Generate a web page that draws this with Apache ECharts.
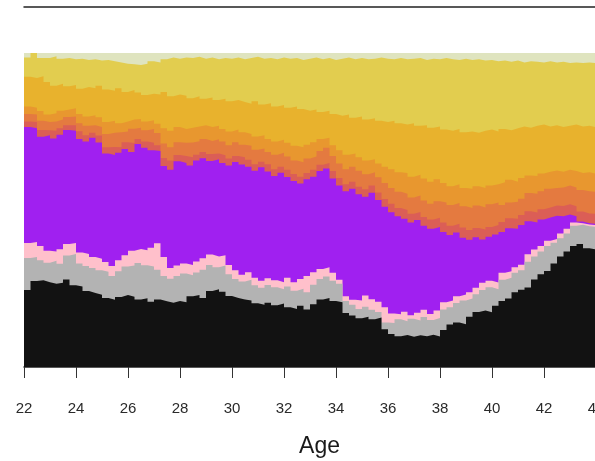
<!DOCTYPE html>
<html>
<head>
<meta charset="utf-8">
<script src="https://cdn.jsdelivr.net/npm/echarts@6/dist/echarts.min.js"></script>
<style>
  html, body { margin: 0; padding: 0; background: #ffffff; }
  #chart { width: 595px; height: 461px; }
</style>
</head>
<body>
<div id="chart"></div>
<script>
// Sampled ages (years)
const ages = [
  22.00,22.25,22.50,22.75,23.00,23.25,23.50,23.75,24.00,24.25,
  24.50,24.75,25.00,25.25,25.50,25.75,26.00,26.25,26.50,26.75,
  27.00,27.25,27.50,27.75,28.00,28.25,28.50,28.75,29.00,29.25,
  29.50,29.75,30.00,30.25,30.50,30.75,31.00,31.25,31.50,31.75,
  32.00,32.25,32.50,32.75,33.00,33.25,33.50,33.75,34.00,34.25,
  34.50,34.75,35.00,35.25,35.50,35.75,36.00,36.25,36.50,36.75,
  37.00,37.25,37.50,37.75,38.00,38.25,38.50,38.75,39.00,39.25,
  39.50,39.75,40.00,40.25,40.50,40.75,41.00,41.25,41.50,41.75,
  42.00,42.25,42.50,42.75,43.00,43.25,43.50,43.75,44.00
];

// Cumulative share (%) at the top of each state, bottom state first
const cumBlack = [
  24.5,27.4,27.6,27.0,26.5,26.8,27.9,26.0,25.6,24.2,
  23.6,23.0,22.0,21.4,22.3,22.9,22.4,21.5,21.9,20.8,
  21.5,20.9,20.5,21.0,20.6,22.5,22.9,22.0,24.2,24.8,
  24.0,22.6,22.0,21.5,21.2,20.3,19.8,20.5,19.7,20.2,
  19.0,18.5,19.5,18.3,20.0,21.5,22.0,21.0,20.6,17.2,
  16.4,15.5,16.0,15.2,15.8,12.0,10.5,9.8,10.2,9.6,
  10.1,9.8,10.3,9.7,11.8,13.5,14.2,13.6,16.0,17.5,
  18.0,17.4,19.5,21.0,21.8,23.8,24.6,25.3,27.9,29.5,
  30.6,33.0,35.2,36.8,38.5,39.2,37.8,37.4,37.6
];
const cumGray = [
  34.7,35.0,34.0,33.2,33.8,32.9,35.5,36.0,33.0,32.2,
  31.5,30.8,30.3,29.0,30.5,32.0,32.3,33.1,32.4,32.0,
  31.0,29.0,28.1,29.0,29.8,29.2,30.1,31.0,32.5,31.8,
  32.3,29.5,28.0,27.2,27.8,26.0,25.2,26.1,25.4,24.8,
  25.6,24.3,24.9,23.8,26.2,28.0,28.8,27.5,26.5,21.0,
  19.8,18.5,19.2,18.2,17.5,14.2,14.0,15.2,14.6,15.4,
  14.8,15.9,15.0,15.6,18.3,19.0,20.4,21.2,21.8,23.2,
  24.5,25.4,24.8,27.8,28.4,30.0,30.8,33.5,35.2,36.8,
  38.5,39.6,41.0,42.5,45.0,45.3,44.8,44.6,44.6
];
const cumPink = [
  39.5,39.8,38.5,37.0,36.8,37.5,39.2,39.5,36.5,36.0,
  35.0,34.5,33.4,32.2,34.0,35.6,37.0,37.6,37.2,38.0,
  39.4,35.0,31.5,32.3,33.0,32.5,33.6,34.6,35.8,35.2,
  35.6,32.5,30.8,29.4,30.2,28.4,27.5,28.3,27.6,27.0,
  28.4,27.0,28.0,29.0,30.2,31.2,31.8,30.0,27.8,22.5,
  21.4,21.2,22.8,21.6,20.8,19.0,17.0,16.8,17.6,16.5,
  17.3,18.2,16.9,18.0,20.6,21.2,22.5,23.1,23.8,25.2,
  26.8,27.5,26.9,30.0,30.5,31.8,32.6,35.9,37.4,38.5,
  40.2,40.8,42.5,44.0,46.0,45.8,45.4,45.2,45.0
];
const cumPurple = [
  76.4,76.0,73.3,73.8,72.8,74.0,75.5,75.2,72.6,71.8,
  73.0,71.5,68.0,67.5,68.2,69.4,68.5,71.0,69.8,69.0,
  68.8,64.0,62.8,65.5,65.0,64.2,65.8,66.5,65.6,66.2,
  65.0,64.2,65.3,64.5,63.8,62.5,63.6,62.3,60.8,61.9,
  60.5,59.2,58.4,59.8,60.6,62.4,63.2,60.0,57.8,56.0,
  56.8,55.0,54.2,55.5,53.2,51.0,49.3,48.0,47.2,46.0,
  46.8,45.0,44.0,44.6,43.0,42.0,42.8,41.2,40.5,41.3,
  40.6,41.5,42.2,43.0,44.2,44.0,45.2,46.4,46.0,47.0,
  47.6,48.2,48.0,48.6,48.0,46.3,45.8,45.6,45.4
];
const cumRed = [
  78.2,78.0,75.5,75.4,75.2,76.0,77.0,77.0,75.1,73.8,
  74.6,73.7,70.0,70.1,70.0,71.6,71.3,72.6,71.8,71.4,
  70.6,66.6,65.8,67.5,67.2,66.8,67.6,68.5,67.8,68.0,
  67.4,66.4,67.2,66.8,66.0,64.6,65.4,64.6,63.0,63.8,
  62.8,61.5,60.6,61.8,62.8,64.4,65.0,62.4,60.2,58.2,
  59.0,57.4,56.6,57.8,55.6,53.5,52.0,50.6,50.0,48.8,
  49.4,47.8,47.0,47.5,46.0,45.0,45.6,44.4,43.6,44.3,
  43.8,44.6,45.2,46.2,47.4,47.2,48.4,49.6,49.2,50.2,
  50.8,51.4,51.3,51.8,51.2,49.5,48.9,48.8,48.6
];
const cumOrangeRed = [
  80.6,80.4,78.4,78.0,78.2,78.8,79.6,79.8,77.6,76.8,
  77.0,76.4,74.2,74.6,74.8,75.0,75.9,76.2,75.4,75.8,
  74.5,71.2,70.0,71.6,71.4,71.5,71.9,72.6,72.0,72.5,
  71.8,70.6,71.6,70.8,70.5,69.2,69.6,68.5,67.6,68.2,
  67.0,65.8,65.2,66.4,67.0,68.8,69.8,67.2,64.8,63.0,
  63.8,62.5,61.4,62.0,60.4,58.6,57.0,55.8,55.2,54.0,
  54.6,53.0,52.0,52.8,52.4,51.6,52.2,51.2,50.6,51.4,
  50.8,51.8,52.4,51.6,52.4,52.6,53.6,55.4,55.2,56.0,
  56.8,57.0,57.2,57.8,57.2,56.4,56.0,55.8,55.6
];
const cumOrange = [
  83.0,82.6,81.5,80.4,80.8,81.6,82.0,82.4,80.6,79.8,
  80.2,79.5,78.0,78.4,77.6,78.2,78.8,79.0,78.2,78.6,
  77.5,76.0,75.2,76.4,75.8,76.2,76.6,77.0,76.4,76.8,
  75.8,75.0,75.6,74.8,74.2,73.4,73.8,72.6,71.8,72.4,
  71.4,70.5,70.0,70.8,71.6,72.6,73.0,70.6,69.0,67.6,
  68.0,66.8,65.8,66.2,64.8,63.8,63.0,62.0,61.8,60.6,
  61.2,60.0,59.0,59.8,58.6,57.6,58.2,57.0,56.8,57.6,
  57.0,57.8,58.2,58.8,59.6,59.0,60.2,61.0,60.8,61.6,
  62.2,62.6,62.2,62.8,62.4,61.8,62.0,61.6,61.8
];
const cumGold = [
  92.4,92.0,92.6,90.8,89.6,90.2,89.4,89.8,88.6,89.2,
  88.8,89.6,88.4,88.0,88.8,87.6,88.2,87.4,86.6,87.0,
  86.8,87.6,86.2,86.8,86.4,85.6,86.2,85.4,85.8,85.0,
  85.4,84.6,85.0,84.4,83.8,84.6,83.6,84.0,83.0,83.4,
  82.6,83.0,82.2,81.6,82.0,81.2,81.6,80.6,80.0,80.4,
  79.4,79.8,78.8,79.2,78.4,78.0,78.4,77.6,77.2,77.6,
  76.8,77.0,76.2,76.6,75.6,75.2,75.8,74.8,75.0,74.6,
  75.2,75.6,75.0,75.8,75.4,76.0,76.6,76.2,76.8,77.2,
  76.6,77.0,76.4,76.8,77.2,76.6,76.8,76.4,76.8
];
const cumYellow = [
  98.6,100,98.4,98.4,99.0,98.2,98.4,98.0,98.2,97.8,
  98.0,97.6,97.8,97.4,97.0,96.6,96.4,96.2,96.6,97.4,
  97.0,98.0,98.6,98.2,98.6,98.4,98.8,98.2,98.6,98.0,
  98.4,98.2,98.6,98.0,98.4,98.8,98.2,98.4,98.0,98.6,
  98.2,98.4,97.8,98.2,98.6,98.0,98.4,97.8,98.2,98.6,
  98.0,98.4,98.0,98.2,98.6,98.2,98.0,98.4,98.0,98.2,
  98.4,97.8,98.2,98.0,98.4,98.0,97.8,98.2,97.8,98.0,
  97.6,97.8,97.4,97.6,97.2,97.6,97.0,97.4,97.2,97.0,
  97.4,97.0,97.2,96.8,97.0,96.8,97.0,96.8,97.0
];
const cumPale = [
  100,100,100,100,100,100,100,100,100,100,
  100,100,100,100,100,100,100,100,100,100,
  100,100,100,100,100,100,100,100,100,100,
  100,100,100,100,100,100,100,100,100,100,
  100,100,100,100,100,100,100,100,100,100,
  100,100,100,100,100,100,100,100,100,100,
  100,100,100,100,100,100,100,100,100,100,
  100,100,100,100,100,100,100,100,100,100,
  100,100,100,100,100,100,100,100,100
];

// Painted from the top state down; each area fills to 0 and covers the one before
const layers = [
  { name: 'pale',      data: cumPale,      color: '#dfe4bf' },
  { name: 'yellow',    data: cumYellow,    color: '#e2cd4f' },
  { name: 'gold',      data: cumGold,      color: '#e8b22d' },
  { name: 'orange',    data: cumOrange,    color: '#e8972f' },
  { name: 'orangered', data: cumOrangeRed, color: '#e47a40' },
  { name: 'red',       data: cumRed,       color: '#db5e56' },
  { name: 'purple',    data: cumPurple,    color: '#a020f0' },
  { name: 'pink',      data: cumPink,      color: '#ffc0cb' },
  { name: 'gray',      data: cumGray,      color: '#b3b3b3' },
  { name: 'black',     data: cumBlack,     color: '#121212' }
];

const series = layers.map(l => ({
  name: l.name,
  type: 'line',
  step: 'end',
  symbol: 'none',
  showSymbol: false,
  silent: true,
  data: ages.map((a, i) => [a, l.data[i]]),
  lineStyle: { width: 0 },
  itemStyle: { color: l.color },
  areaStyle: { color: l.color, opacity: 1 }
}));

const chart = echarts.init(document.getElementById('chart'), null, { renderer: 'canvas' });
chart.setOption({
  animation: false,
  backgroundColor: '#ffffff',
  // plot region runs past the right edge of the page
  grid: { left: 24, top: 53, width: 591, height: 314, outerBoundsMode: 'none', containLabel: false },
  xAxis: [
    {
      type: 'value',
      min: 22,
      max: 44.73,
      interval: 2,
      position: 'bottom',
      offset: 6,
      splitLine: { show: false },
      axisLine: { lineStyle: { color: '#222', width: 1.5 } },
      axisTick: { length: 11, lineStyle: { color: '#333', width: 1 } },
      axisLabel: {
        margin: 28,
        fontSize: 15,
        color: '#2a2a2a',
        fontFamily: 'Liberation Sans',
        showMaxLabel: false,
        formatter: v => (Number.isInteger(v) ? String(v) : '')
      },
      name: 'Age',
      nameLocation: 'middle',
      nameGap: 62,
      nameTextStyle: { fontSize: 23, color: '#1a1a1a', fontFamily: 'Liberation Sans' }
    },
    {
      type: 'value',
      min: 22,
      max: 44.73,
      position: 'top',
      offset: 46,
      splitLine: { show: false },
      axisLine: { show: true, lineStyle: { color: '#222', width: 1.5 } },
      axisTick: { show: false },
      axisLabel: { show: false }
    }
  ],
  yAxis: { type: 'value', min: 0, max: 100, show: false },
  series: series
});
</script>
</body>
</html>
